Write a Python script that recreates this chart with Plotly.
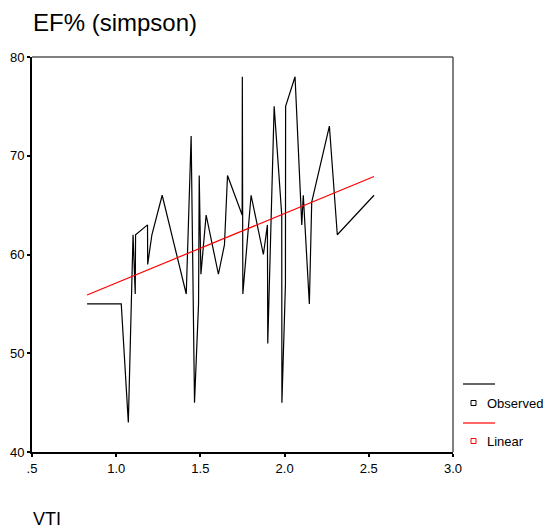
import plotly.graph_objects as go

# ---- data ----
vti = [0.827, 1.030, 1.072, 1.100, 1.113, 1.115, 1.186, 1.187, 1.212, 1.273,
       1.416, 1.445, 1.465, 1.489, 1.493, 1.503, 1.534, 1.607, 1.643, 1.661,
       1.748, 1.749, 1.752, 1.801, 1.874, 1.898, 1.900, 1.938, 1.983, 1.984,
       2.005, 2.006, 2.062, 2.102, 2.111, 2.147, 2.161, 2.266, 2.313, 2.531]
ef_observed = [55, 55, 43, 62, 56, 62, 63, 59, 62, 66,
               56, 72, 45, 55, 68, 58, 64, 58, 61, 68,
               64, 78, 56, 66, 60, 63, 51, 75, 64, 45,
               57, 75, 78, 63, 66, 55, 65.3, 73, 62, 66]
linear_x = [0.827, 2.531]
linear_y = [55.9, 67.9]

x_tickvals = [0.5, 1.0, 1.5, 2.0, 2.5, 3.0]
x_ticktext = [".5", "1.0", "1.5", "2.0", "2.5", "3.0"]
y_tickvals = [40, 50, 60, 70, 80]
y_ticktext = ["40", "50", "60", "70", "80"]

title_text = "EF% (simpson)"
x_title = "VTI"
legend_names = ["Observed", "Linear"]
legend_colors = ["black", "red"]

FONT = "Liberation Sans, Arial, sans-serif"

# ---- layout geometry (window pixels); body margin removed via post_script ----
W, H = 544, 529
L, R, T, B = 32, 453, 57, 452          # plot area in window pixels
pw, ph = R - L, B - T


def px_x(px):
    return (px - L) / pw


def px_y(py):
    return (B - py) / ph


fig = go.Figure()
fig.add_trace(go.Scatter(x=vti, y=ef_observed, mode="lines",
                         line=dict(color="black", width=1.2),
                         name=legend_names[0], showlegend=False))
fig.add_trace(go.Scatter(x=linear_x, y=linear_y, mode="lines",
                         line=dict(color="red", width=1.2),
                         name=legend_names[1], showlegend=False))

shapes = [
    dict(type="line", xref="paper", yref="paper", x0=0, x1=1, y0=1, y1=1,
         line=dict(color="#808080", width=2)),
    dict(type="line", xref="paper", yref="paper", x0=1, x1=1, y0=0, y1=1,
         line=dict(color="#555555", width=1.5)),
]
annotations = [
    dict(text=title_text, xref="paper", yref="paper", x=px_x(31), y=px_y(23),
         xanchor="left", yanchor="middle", showarrow=False,
         font=dict(family=FONT, size=24, color="black")),
    dict(text=x_title, xref="paper", yref="paper", x=px_x(31), y=px_y(519),
         xanchor="left", yanchor="middle", showarrow=False,
         font=dict(family=FONT, size=18, color="black")),
]

leg_line_y = [384, 423]
leg_item_y = [403, 441]
for name, col, ly, iy in zip(legend_names, legend_colors, leg_line_y, leg_item_y):
    shapes.append(dict(type="line", xref="paper", yref="paper",
                       x0=px_x(463), x1=px_x(495), y0=px_y(ly), y1=px_y(ly),
                       line=dict(color=col, width=1.2)))
    shapes.append(dict(type="rect", xref="paper", yref="paper",
                       x0=px_x(471), x1=px_x(476), y0=px_y(iy + 2.5), y1=px_y(iy - 2.5),
                       line=dict(color=col, width=1), fillcolor="white"))
    annotations.append(dict(text=name, xref="paper", yref="paper",
                            x=px_x(485), y=px_y(iy), xanchor="left", yanchor="middle",
                            showarrow=False,
                            font=dict(family=FONT, size=13, color="black")))

fig.update_layout(
    width=W, height=H,
    margin=dict(l=L, r=W - R, t=T, b=H - B, pad=0, autoexpand=False),
    paper_bgcolor="white", plot_bgcolor="white",
    showlegend=False, hovermode=False, dragmode=False,
    shapes=shapes, annotations=annotations,
    font=dict(family=FONT, size=13, color="black"),
)
fig.update_xaxes(range=[0.5, 3.0], tickvals=x_tickvals, ticktext=x_ticktext,
                 showgrid=False, zeroline=False, showline=True, automargin=False,
                 linecolor="black", linewidth=2, ticks="outside",
                 ticklen=3, tickwidth=2, tickcolor="black",
                 tickfont=dict(family=FONT, size=13, color="black"))
fig.update_yaxes(range=[40, 80], tickvals=y_tickvals, ticktext=y_ticktext,
                 showgrid=False, zeroline=False, showline=True, automargin=False,
                 linecolor="black", linewidth=2, ticks="outside",
                 ticklen=3, tickwidth=2, tickcolor="black",
                 tickfont=dict(family=FONT, size=13, color="black"))

fig.write_html(
    "out.html",
    config={"displayModeBar": False, "staticPlot": True},
    post_script="document.body.style.margin='0';document.body.style.overflow='hidden';",
)
